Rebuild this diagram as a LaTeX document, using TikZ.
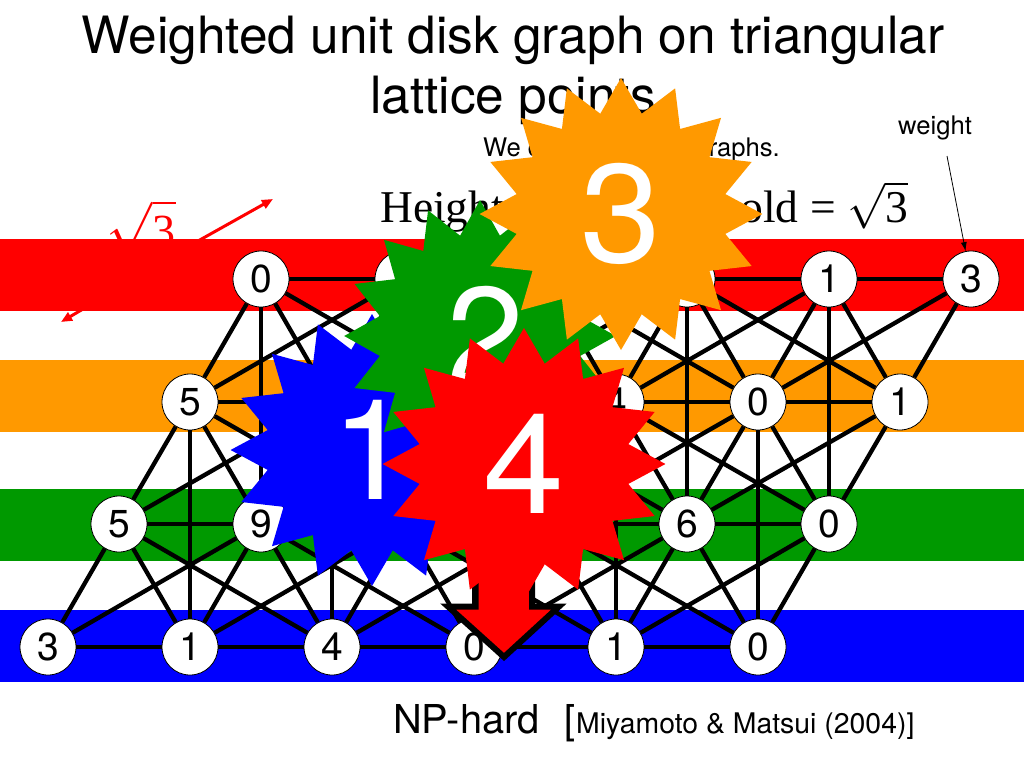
\documentclass[tikz,border=0pt]{standalone}
\usepackage{fix-cm}
\usepackage{fontspec}
\setmainfont{TeX Gyre Heros}
\newfontfamily\timesface{Liberation Serif}
\usetikzlibrary{arrows.meta}
\usetikzlibrary{shapes.geometric}
\definecolor{barred}{HTML}{FF0000}
\definecolor{barorange}{HTML}{FF9900}
\definecolor{bargreen}{HTML}{009900}
\definecolor{barblue}{HTML}{0000FF}
\newcommand{\pxfont}[1]{\fontsize{#1}{#1}\selectfont}

\begin{document}
\begin{tikzpicture}[x=1pt,y=-1pt]
  \tikzset{site/.style = {shape=circle,draw,fill=white,line width=0.8pt,minimum size=56pt,inner sep=0pt,font=\pxfont{39}}}
  \tikzset{link/.style = {line width=4.3pt}}
  \tikzset{band/.style = {draw=none,fill=#1}}
  \tikzset{burst/.style = {shape=star,star points=16,star point ratio=1.33,fill=#1,inner sep=0pt,minimum size=272pt,xscale=1.04,transform shape,text=white,font=\pxfont{140}}}
  \tikzset{redarrow/.style = {draw=barred,line width=3pt,-{Triangle[angle=45:12pt]}}}

  \useasboundingbox (0,0) rectangle (1024,768);

  \node[font=\pxfont{51.4}] (title1) at (513,40) {Weighted unit disk graph on triangular};
  \node[font=\pxfont{51.4}] (title2) at (513,100) {lattice points};
  \node[font=\pxfont{25.6},anchor=base west,inner sep=0pt] (note1) at (483,156) {We c};
  \node[font=\pxfont{25.6},anchor=base east,inner sep=0pt] (note2) at (780,156) {raphs.};
  \node[font=\pxfont{25.6}] (weighttxt) at (935,128) {weight};
  \node[font=\timesface\pxfont{45.5},anchor=base west,inner sep=0pt] (height1) at (380,222) {Height};
  \node[font=\timesface\pxfont{45.5},anchor=base east,inner sep=0pt] (height2) at (908,222) {old = $\sqrt{\mbox{3}}$};

  % red height marker, it runs under the red band
  \node[font=\timesface\pxfont{55},text=barred,inner sep=0pt,anchor=base east] (rootlabel) at (176,246) {$\sqrt{\mbox{\pxfont{46}3}}$};
  \coordinate (markup) at (273,199);
  \coordinate (markupfoot) at (198,241);
  \coordinate (markdown) at (61,322);
  \coordinate (markdownfoot) at (100,299);
  \draw[redarrow] (markupfoot) -- (markup);
  \draw[redarrow] (markdownfoot) -- (markdown);

  \path[band=barred] (0,239) rectangle (1024,311);
  \path[band=barorange] (0,360) rectangle (1024,432);
  \path[band=bargreen] (0,489) rectangle (1024,561);
  \path[band=barblue] (0,610) rectangle (1024,682);

  \node[site] (a1) at (261,279) {0};
  \node[site] (a2) at (403,279) {};
  \node[site] (a3) at (545,279) {};
  \node[site] (a4) at (687,279) {};
  \node[site] (a5) at (829,279) {1};
  \node[site] (a6) at (971,279) {3};
  \node[site] (b1) at (190,402) {5};
  \node[site] (b2) at (332,402) {};
  \node[site] (b3) at (474,402) {};
  \node[site] (b4) at (616,402) {4};
  \node[site] (b5) at (758,402) {0};
  \node[site] (b6) at (900,402) {1};
  \node[site] (c1) at (119,524) {5};
  \node[site] (c2) at (261,524) {9};
  \node[site] (c3) at (403,524) {};
  \node[site] (c4) at (545,524) {};
  \node[site] (c5) at (687,524) {6};
  \node[site] (c6) at (829,524) {0};
  \node[site] (d1) at (48,647) {3};
  \node[site] (d2) at (190,647) {1};
  \node[site] (d3) at (332,647) {4};
  \node[site] (d4) at (474,647) {0};
  \node[site] (d5) at (616,647) {1};
  \node[site] (d6) at (758,647) {0};

  \foreach \row in {a,b,c,d}
    \foreach \from/\to in {1/2,2/3,3/4,4/5,5/6}
      \draw[link] (\row\from) -- (\row\to);

  \foreach \upper/\lower in {a/b,b/c,c/d}
    \foreach \from/\to in {1/1,2/2,3/3,4/4,5/5,6/6,1/2,2/3,3/4,4/5,5/6,1/3,2/4,3/5,4/6,2/1,3/2,4/3,5/4,6/5}
      \draw[link] (\upper\from) -- (\lower\to);

  \foreach \upper/\lower in {a/c,b/d}
    \foreach \from/\to in {1/2,2/3,3/4,4/5,5/6}
      \draw[link] (\upper\from) -- (\lower\to);

  \coordinate (weightfoot) at (947,156);
  \draw[-{Latex[length=9pt,width=6pt]},line width=0.8pt] (weightfoot) -- (a6);

  \node[burst=barblue] (burst1) at (372,450) {\raisebox{-5pt}{1}};
  \node[burst=bargreen,xscale=0.96] (burst2) at (480,336) {\raisebox{-5pt}{\hspace{10pt}2}};
  \node[burst=barorange] (burst3) at (621,214) {\raisebox{-8pt}{3}};

  \draw[line width=6pt,fill=barred,miter limit=10] (475.5,500) -- (475.5,606.5) -- (448,606.5) -- (504,657) -- (559,606.5) -- (532,606.5) -- (532,500) -- cycle;

  \node[burst=barred] (burst4) at (524,464) {\raisebox{-9pt}{4}};

  \node[font=\pxfont{39.8},anchor=base west,inner sep=0pt] (nphard) at (393,733) {NP-hard};
  \node[font=\pxfont{39.8},anchor=base west,inner sep=0pt] (bracket) at (564,733) {[};
  \node[font=\pxfont{28.4},anchor=base west,inner sep=0pt] (cite) at (576,733) {Miyamoto \& Matsui (2004)]};
\end{tikzpicture}
\end{document}
